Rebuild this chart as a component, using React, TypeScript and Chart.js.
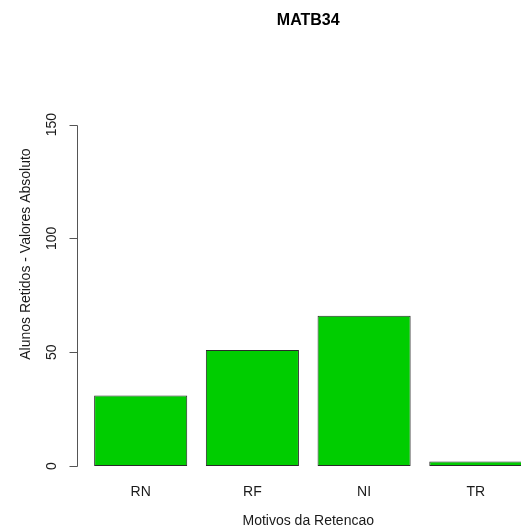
import { useEffect, useRef } from "react";
import { Chart, registerables } from "chart.js";

Chart.register(...registerables);

// ---- data ----
const chartTitle = "MATB34";
const categories = ["RN", "RF", "NI", "TR"];
const values = [31, 51, 66, 2];
const yTicks = [0, 50, 100, 150];
const xTitle = "Motivos da Retencao";
const yTitle = "Alunos Retidos - Valores Absoluto";

// ---- R barplot style geometry (width 1, space 0.2) ----
const BAR_WIDTH = 1;
const SPACE = 0.2;
const centers = categories.map((_, i) => SPACE + BAR_WIDTH / 2 + i * (BAR_WIDTH + SPACE));
const xLo = SPACE;
const xHi = categories.length * (BAR_WIDTH + SPACE);
const X_MIN = xLo - 0.04 * (xHi - xLo);
const X_MAX = xHi + 0.04 * (xHi - xLo);
const Y_MIN = -7.5;
const Y_MAX = 192;

const FONT = "'Liberation Sans', Arial, Helvetica, sans-serif";
const TEXT = "#1a1a1a";

const rAxisPlugin = {
  id: "rAxis",
  afterDraw(chart: any) {
    const { ctx, chartArea, scales } = chart;
    const y = scales.y;
    const left = chartArea.left;
    ctx.save();
    ctx.strokeStyle = "#555";
    ctx.lineWidth = 1;
    const ax = Math.round(left) + 0.5;
    const p0 = Math.round(y.getPixelForValue(yTicks[0])) + 0.5;
    const p1 = Math.round(y.getPixelForValue(yTicks[yTicks.length - 1])) + 0.5;
    ctx.beginPath();
    ctx.moveTo(ax, p0);
    ctx.lineTo(ax, p1);
    yTicks.forEach((v) => {
      const py = Math.round(y.getPixelForValue(v)) + 0.5;
      ctx.moveTo(ax - 8, py);
      ctx.lineTo(ax, py);
    });
    ctx.stroke();

    ctx.fillStyle = TEXT;
    ctx.font = `14px ${FONT}`;
    ctx.textAlign = "center";
    ctx.textBaseline = "alphabetic";
    yTicks.forEach((v) => {
      const py = y.getPixelForValue(v);
      ctx.save();
      ctx.translate(left - 21, py);
      ctx.rotate(-Math.PI / 2);
      ctx.fillText(String(v), 0, 0);
      ctx.restore();
    });

    ctx.save();
    ctx.translate(left - 47, (chartArea.top + chartArea.bottom) / 2 - 2);
    ctx.rotate(-Math.PI / 2);
    ctx.fillText(yTitle, 0, 0);
    ctx.restore();
    ctx.restore();
  },
};

export default function App() {
  const ref = useRef<HTMLCanvasElement | null>(null);

  useEffect(() => {
    const canvas = ref.current;
    if (!canvas) return;
    const chart = new Chart(canvas, {
      type: "bar",
      data: {
        datasets: [
          {
            data: categories.map((_, i) => ({ x: centers[i], y: values[i] })),
            backgroundColor: "#00CD00",
            borderColor: "#2a2a2a",
            borderWidth: 1,
            borderSkipped: false,
            barPercentage: 1,
            categoryPercentage: BAR_WIDTH / (BAR_WIDTH + SPACE),
          },
        ],
      } as any,
      options: {
        responsive: false,
        animation: false,
        devicePixelRatio: 1,
        layout: { padding: { left: 77, right: 20.5, top: 0, bottom: 0 } },
        plugins: {
          legend: { display: false },
          tooltip: { enabled: false },
          title: {
            display: true,
            text: chartTitle,
            fullSize: false,
            color: "#000",
            font: { family: FONT, size: 16, weight: "bold", lineHeight: 1 },
            padding: { top: 13, bottom: 0 },
          },
        },
        scales: {
          x: {
            type: "linear",
            min: X_MIN,
            max: X_MAX,
            offset: false,
            grid: { display: false, drawTicks: false },
            border: { display: false },
            afterBuildTicks: (s: any) => {
              s.ticks = centers.map((v) => ({ value: v }));
            },
            afterFit: (s: any) => {
              s.height = 48.9;
            },
            ticks: {
              autoSkip: false,
              maxRotation: 0,
              minRotation: 0,
              padding: 1,
              color: TEXT,
              font: { family: FONT, size: 14 },
              callback: (_v: any, i: number) => categories[i],
            },
            title: {
              display: true,
              text: xTitle,
              color: TEXT,
              font: { family: FONT, size: 14 },
              padding: { top: 0, bottom: 2.6 },
            },
          },
          y: {
            display: false,
            min: Y_MIN,
            max: Y_MAX,
          },
        },
      } as any,
      plugins: [rAxisPlugin],
    });
    return () => chart.destroy();
  }, []);

  return (
    <div
      style={{
        position: "absolute",
        left: 0,
        top: 0,
        width: 521,
        height: 532,
        overflow: "hidden",
        background: "#fff",
      }}
    >
      <canvas ref={ref} width={560} height={532} style={{ width: 560, height: 532, display: "block" }} />
    </div>
  );
}
